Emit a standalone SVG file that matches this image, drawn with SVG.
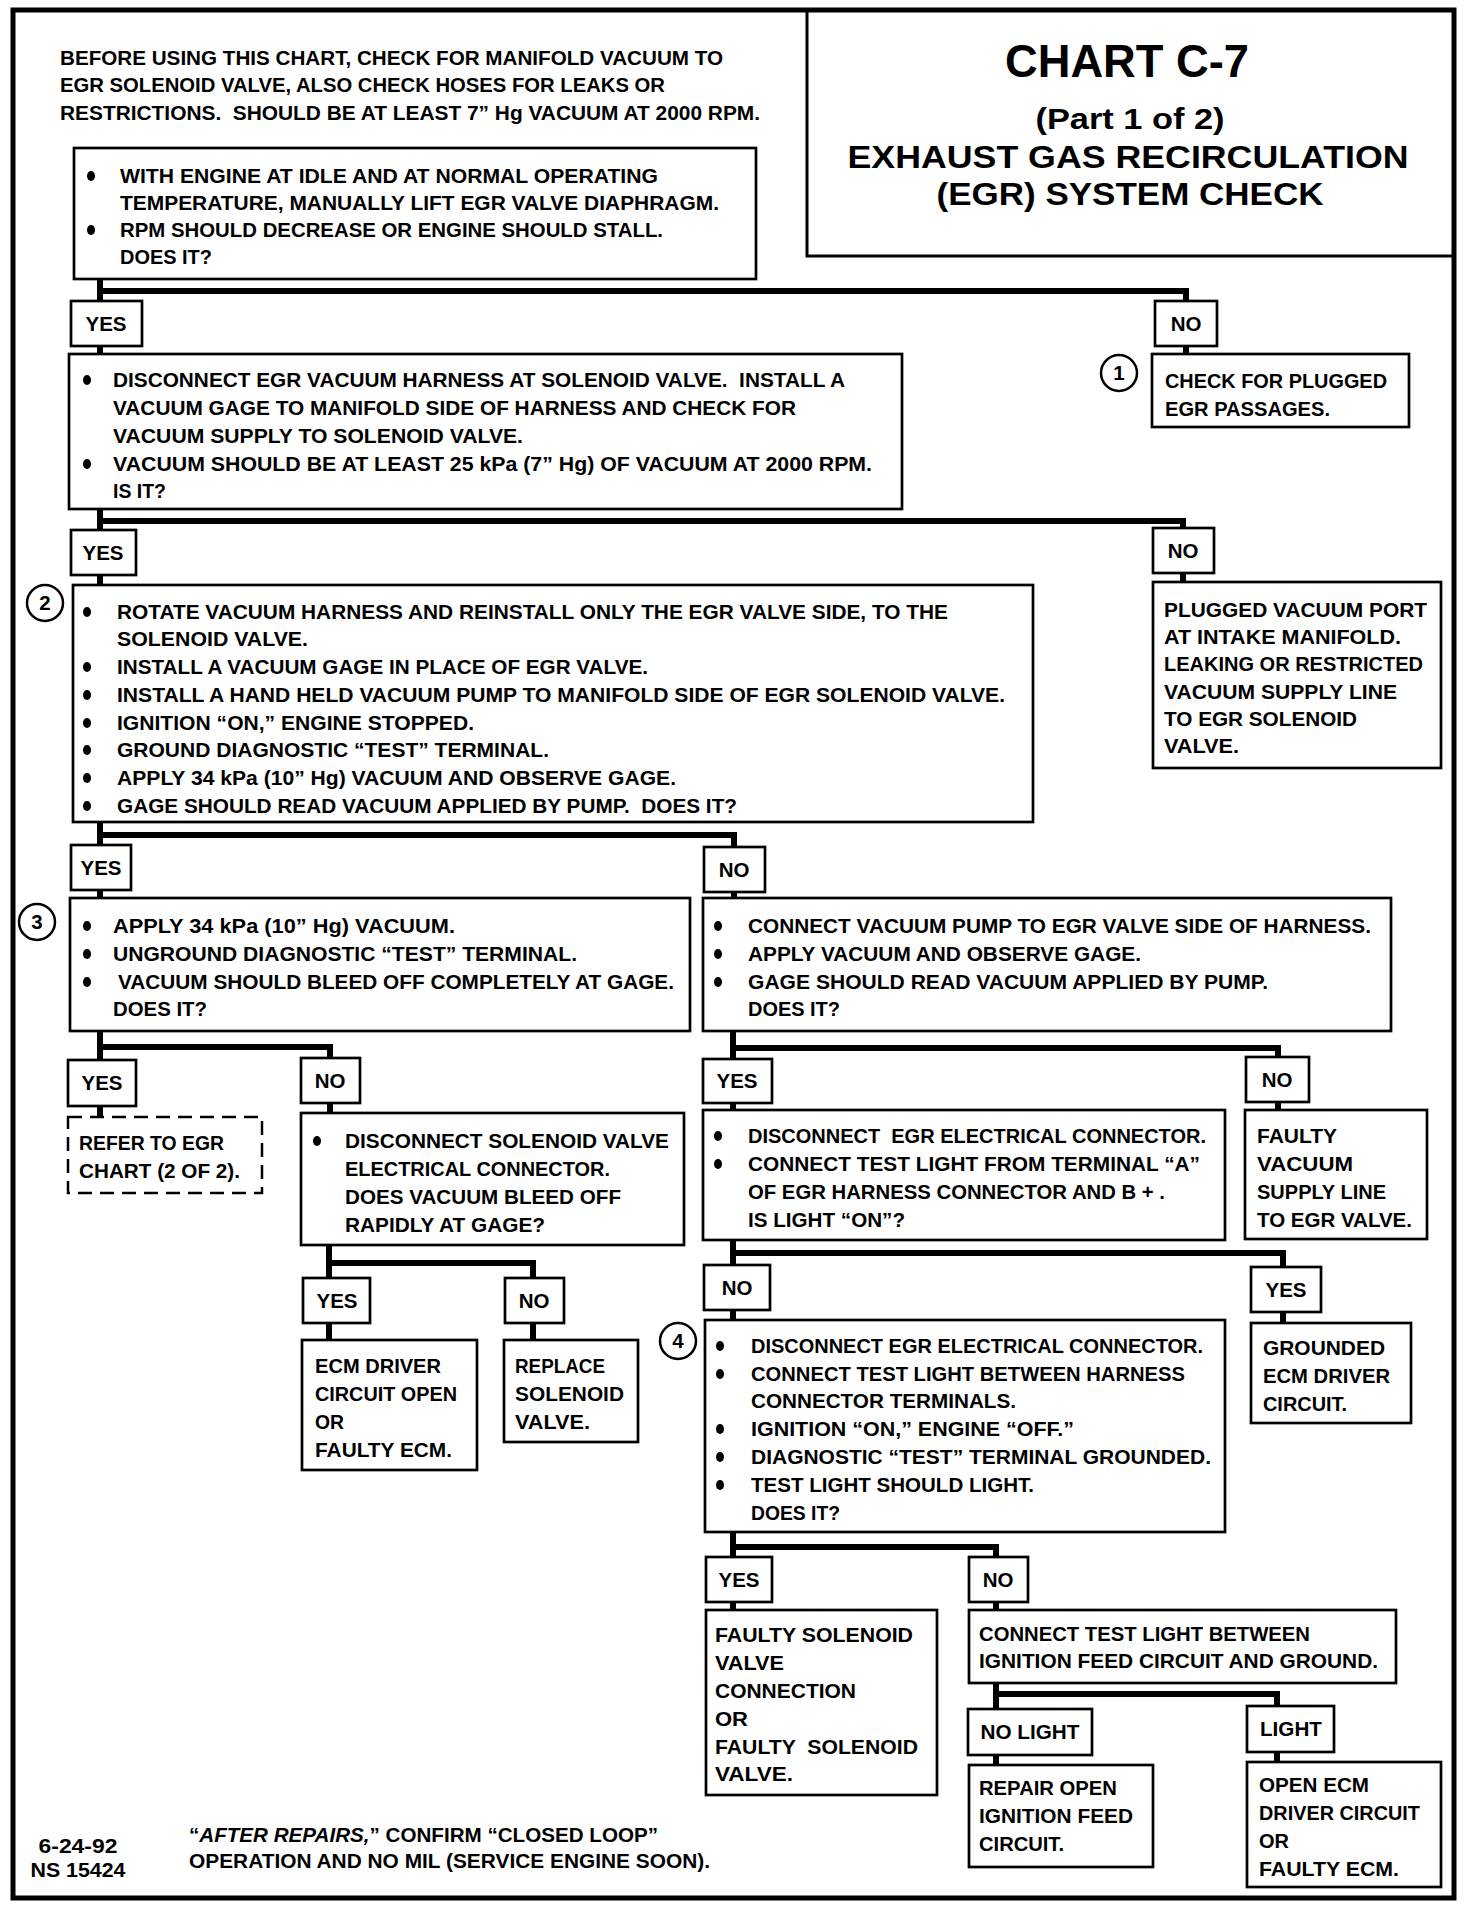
<svg xmlns="http://www.w3.org/2000/svg" width="1472" height="1908" viewBox="0 0 1472 1908">
<style>
.bx{fill:#fff;stroke:#000;stroke-width:2.7}
.dash{fill:#fff;stroke:#000;stroke-width:2.5;stroke-dasharray:14 8}
.t{font-family:"Liberation Sans",Arial,sans-serif;font-weight:bold;font-size:20.5px;fill:#000}
.c{text-anchor:middle}
.cn{fill:none;stroke:#000;stroke-width:6;stroke-linecap:square}
.ci{fill:#fff;stroke:#000;stroke-width:2.5}
.bul{fill:#000}
.h1{font-size:46px}
.h2{font-size:29px}
.h3{font-size:31px}
</style>
<defs><ellipse id="b" rx="4" ry="5" class="bul"/></defs>
<rect x="0" y="0" width="1472" height="1908" fill="#fff"/>
<rect x="13" y="10" width="1441" height="1888" fill="none" stroke="#000" stroke-width="5"/>

<g id="connectors">
<path class="cn" d="M100,279V301M100,291H1186V301M100,346V354M1186,346V354"/>
<path class="cn" d="M100,509V530M100,521H1183V528M100,575V585M1183,573V582"/>
<path class="cn" d="M100,822V845M100,835H734V847M100,890V898M734,892V898"/>
<path class="cn" d="M100,1031V1060M100,1047H330V1058M100,1106V1117M330,1103V1113"/>
<path class="cn" d="M733,1031V1059M733,1048H1278V1057M733,1103V1110M1278,1102V1110"/>
<path class="cn" d="M329,1245V1278M329,1263H533V1278M329,1323V1340M533,1323V1340"/>
<path class="cn" d="M733,1240V1265M733,1253H1283V1267M733,1310V1320M1283,1312V1323"/>
<path class="cn" d="M733,1532V1557M733,1547H996V1557M733,1602V1610M996,1602V1610"/>
<path class="cn" d="M996,1683V1709M996,1694H1277V1706M996,1755V1765M1277,1752V1762"/>
</g>

<g id="title">
<rect x="807" y="10" width="647" height="246" fill="none" stroke="#000" stroke-width="3"/>
<text class="t c h1" x="1127" y="77" textLength="244" lengthAdjust="spacingAndGlyphs">CHART C-7</text>
<text class="t c h2" x="1130" y="129" textLength="189" lengthAdjust="spacingAndGlyphs">(Part 1 of 2)</text>
<text class="t c h3" x="1128" y="168" textLength="561" lengthAdjust="spacingAndGlyphs">EXHAUST GAS RECIRCULATION</text>
<text class="t c h3" x="1130" y="205" textLength="387" lengthAdjust="spacingAndGlyphs">(EGR) SYSTEM CHECK</text>
</g>

<g id="intro">
<text class="t" x="60" y="65" textLength="663" lengthAdjust="spacingAndGlyphs">BEFORE USING THIS CHART, CHECK FOR MANIFOLD VACUUM TO</text>
<text class="t" x="60" y="92" textLength="605" lengthAdjust="spacingAndGlyphs">EGR SOLENOID VALVE, ALSO CHECK HOSES FOR LEAKS OR</text>
<text class="t" x="60" y="120" textLength="700" lengthAdjust="spacingAndGlyphs" xml:space="preserve">RESTRICTIONS.  SHOULD BE AT LEAST 7” Hg VACUUM AT 2000 RPM.</text>
</g>

<g id="q1">
<rect class="bx" x="74" y="148" width="682" height="131"/>
<use href="#b" x="91" y="176"/><use href="#b" x="91" y="230"/>
<text class="t" x="120" y="183" textLength="538" lengthAdjust="spacingAndGlyphs">WITH ENGINE AT IDLE AND AT NORMAL OPERATING</text>
<text class="t" x="120" y="210" textLength="599" lengthAdjust="spacingAndGlyphs">TEMPERATURE, MANUALLY LIFT EGR VALVE DIAPHRAGM.</text>
<text class="t" x="120" y="237" textLength="543" lengthAdjust="spacingAndGlyphs">RPM SHOULD DECREASE OR ENGINE SHOULD STALL.</text>
<text class="t" x="120" y="264" textLength="92" lengthAdjust="spacingAndGlyphs">DOES IT?</text>
</g>

<g id="yes1"><rect class="bx" x="71" y="301" width="71" height="45"/><text class="t c" x="106" y="331">YES</text></g>
<g id="no1"><rect class="bx" x="1155" y="301" width="62" height="45"/><text class="t c" x="1186" y="331">NO</text></g>

<g id="q2">
<rect class="bx" x="69" y="354" width="833" height="155"/>
<use href="#b" x="87" y="380"/><use href="#b" x="87" y="464"/>
<text class="t" x="113" y="387" textLength="732" lengthAdjust="spacingAndGlyphs" xml:space="preserve">DISCONNECT EGR VACUUM HARNESS AT SOLENOID VALVE.  INSTALL A</text>
<text class="t" x="113" y="415" textLength="683" lengthAdjust="spacingAndGlyphs">VACUUM GAGE TO MANIFOLD SIDE OF HARNESS AND CHECK FOR</text>
<text class="t" x="113" y="443" textLength="410" lengthAdjust="spacingAndGlyphs">VACUUM SUPPLY TO SOLENOID VALVE.</text>
<text class="t" x="113" y="471" textLength="759" lengthAdjust="spacingAndGlyphs">VACUUM SHOULD BE AT LEAST 25 kPa (7” Hg) OF VACUUM AT 2000 RPM.</text>
<text class="t" x="113" y="498" textLength="53" lengthAdjust="spacingAndGlyphs">IS IT?</text>
</g>

<g id="r1">
<circle class="ci" cx="1119" cy="373" r="18"/><text class="t c" x="1119" y="380">1</text>
<rect class="bx" x="1152" y="354" width="257" height="73"/>
<text class="t" x="1165" y="388" textLength="222" lengthAdjust="spacingAndGlyphs">CHECK FOR PLUGGED</text>
<text class="t" x="1165" y="416" textLength="165" lengthAdjust="spacingAndGlyphs">EGR PASSAGES.</text>
</g>

<g id="yes2"><rect class="bx" x="71" y="530" width="65" height="45"/><text class="t c" x="103" y="560">YES</text></g>
<g id="no2"><rect class="bx" x="1153" y="528" width="61" height="45"/><text class="t c" x="1183" y="558">NO</text></g>

<g id="q3">
<circle class="ci" cx="45" cy="603" r="18"/><text class="t c" x="45" y="610">2</text>
<rect class="bx" x="73" y="585" width="960" height="237"/>
<use href="#b" x="87" y="612"/><use href="#b" x="87" y="667"/><use href="#b" x="87" y="695"/><use href="#b" x="87" y="723"/><use href="#b" x="87" y="750"/><use href="#b" x="87" y="778"/><use href="#b" x="87" y="806"/>
<text class="t" x="117" y="619" textLength="831" lengthAdjust="spacingAndGlyphs">ROTATE VACUUM HARNESS AND REINSTALL ONLY THE EGR VALVE SIDE, TO THE</text>
<text class="t" x="117" y="646" textLength="191" lengthAdjust="spacingAndGlyphs">SOLENOID VALVE.</text>
<text class="t" x="117" y="674" textLength="531" lengthAdjust="spacingAndGlyphs">INSTALL A VACUUM GAGE IN PLACE OF EGR VALVE.</text>
<text class="t" x="117" y="702" textLength="888" lengthAdjust="spacingAndGlyphs">INSTALL A HAND HELD VACUUM PUMP TO MANIFOLD SIDE OF EGR SOLENOID VALVE.</text>
<text class="t" x="117" y="730" textLength="357" lengthAdjust="spacingAndGlyphs">IGNITION “ON,” ENGINE STOPPED.</text>
<text class="t" x="117" y="757" textLength="432" lengthAdjust="spacingAndGlyphs">GROUND DIAGNOSTIC “TEST” TERMINAL.</text>
<text class="t" x="117" y="785" textLength="559" lengthAdjust="spacingAndGlyphs">APPLY 34 kPa (10” Hg) VACUUM AND OBSERVE GAGE.</text>
<text class="t" x="117" y="813" textLength="620" lengthAdjust="spacingAndGlyphs" xml:space="preserve">GAGE SHOULD READ VACUUM APPLIED BY PUMP.  DOES IT?</text>
</g>

<g id="r2">
<rect class="bx" x="1153" y="582" width="288" height="186"/>
<text class="t" x="1164" y="617" textLength="263" lengthAdjust="spacingAndGlyphs">PLUGGED VACUUM PORT</text>
<text class="t" x="1164" y="644" textLength="237" lengthAdjust="spacingAndGlyphs">AT INTAKE MANIFOLD.</text>
<text class="t" x="1164" y="671" textLength="259" lengthAdjust="spacingAndGlyphs">LEAKING OR RESTRICTED</text>
<text class="t" x="1164" y="699" textLength="233" lengthAdjust="spacingAndGlyphs">VACUUM SUPPLY LINE</text>
<text class="t" x="1164" y="726" textLength="193" lengthAdjust="spacingAndGlyphs">TO EGR SOLENOID</text>
<text class="t" x="1164" y="753" textLength="75" lengthAdjust="spacingAndGlyphs">VALVE.</text>
</g>

<g id="yes3"><rect class="bx" x="71" y="845" width="60" height="45"/><text class="t c" x="101" y="875">YES</text></g>
<g id="no3"><rect class="bx" x="704" y="847" width="61" height="45"/><text class="t c" x="734" y="877">NO</text></g>

<g id="q4">
<circle class="ci" cx="37" cy="922" r="18"/><text class="t c" x="37" y="929">3</text>
<rect class="bx" x="70" y="898" width="620" height="133"/>
<use href="#b" x="87" y="926"/><use href="#b" x="87" y="954"/><use href="#b" x="87" y="982"/>
<text class="t" x="113" y="933" textLength="342" lengthAdjust="spacingAndGlyphs">APPLY 34 kPa (10” Hg) VACUUM.</text>
<text class="t" x="113" y="961" textLength="464" lengthAdjust="spacingAndGlyphs">UNGROUND DIAGNOSTIC “TEST” TERMINAL.</text>
<text class="t" x="118" y="989" textLength="556" lengthAdjust="spacingAndGlyphs">VACUUM SHOULD BLEED OFF COMPLETELY AT GAGE.</text>
<text class="t" x="113" y="1016" textLength="94" lengthAdjust="spacingAndGlyphs">DOES IT?</text>
</g>

<g id="q5">
<rect class="bx" x="703" y="898" width="688" height="133"/>
<use href="#b" x="718" y="926"/><use href="#b" x="718" y="954"/><use href="#b" x="718" y="982"/>
<text class="t" x="748" y="933" textLength="623" lengthAdjust="spacingAndGlyphs">CONNECT VACUUM PUMP TO EGR VALVE SIDE OF HARNESS.</text>
<text class="t" x="748" y="961" textLength="393" lengthAdjust="spacingAndGlyphs">APPLY VACUUM AND OBSERVE GAGE.</text>
<text class="t" x="748" y="989" textLength="520" lengthAdjust="spacingAndGlyphs">GAGE SHOULD READ VACUUM APPLIED BY PUMP.</text>
<text class="t" x="748" y="1016" textLength="92" lengthAdjust="spacingAndGlyphs">DOES IT?</text>
</g>

<g id="yes4"><rect class="bx" x="68" y="1060" width="68" height="46"/><text class="t c" x="102" y="1090">YES</text></g>
<g id="no4"><rect class="bx" x="301" y="1058" width="59" height="45"/><text class="t c" x="330" y="1088">NO</text></g>
<g id="yes5"><rect class="bx" x="703" y="1059" width="69" height="44"/><text class="t c" x="737" y="1088">YES</text></g>
<g id="no5"><rect class="bx" x="1246" y="1057" width="63" height="45"/><text class="t c" x="1277" y="1087">NO</text></g>

<g id="r3">
<rect class="dash" x="68" y="1117" width="194" height="76"/>
<text class="t" x="79" y="1150" textLength="145" lengthAdjust="spacingAndGlyphs">REFER TO EGR</text>
<text class="t" x="79" y="1178" textLength="161" lengthAdjust="spacingAndGlyphs">CHART (2 OF 2).</text>
</g>

<g id="q6">
<rect class="bx" x="301" y="1113" width="383" height="132"/>
<use href="#b" x="317" y="1141"/>
<text class="t" x="345" y="1148" textLength="324" lengthAdjust="spacingAndGlyphs">DISCONNECT SOLENOID VALVE</text>
<text class="t" x="345" y="1176" textLength="265" lengthAdjust="spacingAndGlyphs">ELECTRICAL CONNECTOR.</text>
<text class="t" x="345" y="1204" textLength="276" lengthAdjust="spacingAndGlyphs">DOES VACUUM BLEED OFF</text>
<text class="t" x="345" y="1232" textLength="200" lengthAdjust="spacingAndGlyphs">RAPIDLY AT GAGE?</text>
</g>

<g id="q7">
<rect class="bx" x="703" y="1110" width="522" height="130"/>
<use href="#b" x="718" y="1136"/><use href="#b" x="718" y="1164"/>
<text class="t" x="748" y="1143" textLength="458" lengthAdjust="spacingAndGlyphs" xml:space="preserve">DISCONNECT  EGR ELECTRICAL CONNECTOR.</text>
<text class="t" x="748" y="1171" textLength="452" lengthAdjust="spacingAndGlyphs">CONNECT TEST LIGHT FROM TERMINAL “A”</text>
<text class="t" x="748" y="1199" textLength="417" lengthAdjust="spacingAndGlyphs">OF EGR HARNESS CONNECTOR AND B + .</text>
<text class="t" x="748" y="1227" textLength="157" lengthAdjust="spacingAndGlyphs">IS LIGHT “ON”?</text>
</g>

<g id="r4">
<rect class="bx" x="1245" y="1110" width="182" height="129"/>
<text class="t" x="1257" y="1143" textLength="80" lengthAdjust="spacingAndGlyphs">FAULTY</text>
<text class="t" x="1257" y="1171" textLength="96" lengthAdjust="spacingAndGlyphs">VACUUM</text>
<text class="t" x="1257" y="1199" textLength="129" lengthAdjust="spacingAndGlyphs">SUPPLY LINE</text>
<text class="t" x="1257" y="1227" textLength="155" lengthAdjust="spacingAndGlyphs">TO EGR VALVE.</text>
</g>

<g id="yes6"><rect class="bx" x="303" y="1278" width="67" height="45"/><text class="t c" x="337" y="1308">YES</text></g>
<g id="no6"><rect class="bx" x="505" y="1278" width="59" height="45"/><text class="t c" x="534" y="1308">NO</text></g>
<g id="no7"><rect class="bx" x="704" y="1265" width="66" height="45"/><text class="t c" x="737" y="1295">NO</text></g>
<g id="yes7"><rect class="bx" x="1251" y="1267" width="70" height="45"/><text class="t c" x="1286" y="1297">YES</text></g>

<g id="r5">
<rect class="bx" x="302" y="1340" width="175" height="130"/>
<text class="t" x="315" y="1373" textLength="126" lengthAdjust="spacingAndGlyphs">ECM DRIVER</text>
<text class="t" x="315" y="1401" textLength="142" lengthAdjust="spacingAndGlyphs">CIRCUIT OPEN</text>
<text class="t" x="315" y="1429" textLength="29" lengthAdjust="spacingAndGlyphs">OR</text>
<text class="t" x="315" y="1457" textLength="137" lengthAdjust="spacingAndGlyphs">FAULTY ECM.</text>
</g>

<g id="r6">
<rect class="bx" x="504" y="1340" width="134" height="102"/>
<text class="t" x="515" y="1373" textLength="90" lengthAdjust="spacingAndGlyphs">REPLACE</text>
<text class="t" x="515" y="1401" textLength="109" lengthAdjust="spacingAndGlyphs">SOLENOID</text>
<text class="t" x="515" y="1429" textLength="75" lengthAdjust="spacingAndGlyphs">VALVE.</text>
</g>

<g id="q8">
<circle class="ci" cx="678" cy="1341" r="18"/><text class="t c" x="678" y="1348">4</text>
<rect class="bx" x="705" y="1320" width="520" height="212"/>
<use href="#b" x="720" y="1346"/><use href="#b" x="720" y="1374"/><use href="#b" x="720" y="1429"/><use href="#b" x="720" y="1457"/><use href="#b" x="720" y="1485"/>
<text class="t" x="751" y="1353" textLength="452" lengthAdjust="spacingAndGlyphs">DISCONNECT EGR ELECTRICAL CONNECTOR.</text>
<text class="t" x="751" y="1381" textLength="434" lengthAdjust="spacingAndGlyphs">CONNECT TEST LIGHT BETWEEN HARNESS</text>
<text class="t" x="751" y="1408" textLength="265" lengthAdjust="spacingAndGlyphs">CONNECTOR TERMINALS.</text>
<text class="t" x="751" y="1436" textLength="323" lengthAdjust="spacingAndGlyphs">IGNITION “ON,” ENGINE “OFF.”</text>
<text class="t" x="751" y="1464" textLength="460" lengthAdjust="spacingAndGlyphs">DIAGNOSTIC “TEST” TERMINAL GROUNDED.</text>
<text class="t" x="751" y="1492" textLength="283" lengthAdjust="spacingAndGlyphs">TEST LIGHT SHOULD LIGHT.</text>
<text class="t" x="751" y="1520" textLength="89" lengthAdjust="spacingAndGlyphs">DOES IT?</text>
</g>

<g id="r7">
<rect class="bx" x="1251" y="1323" width="160" height="100"/>
<text class="t" x="1263" y="1355" textLength="122" lengthAdjust="spacingAndGlyphs">GROUNDED</text>
<text class="t" x="1263" y="1383" textLength="127" lengthAdjust="spacingAndGlyphs">ECM DRIVER</text>
<text class="t" x="1263" y="1411" textLength="84" lengthAdjust="spacingAndGlyphs">CIRCUIT.</text>
</g>

<g id="yes8"><rect class="bx" x="706" y="1557" width="66" height="45"/><text class="t c" x="739" y="1587">YES</text></g>
<g id="no8"><rect class="bx" x="969" y="1557" width="59" height="45"/><text class="t c" x="998" y="1587">NO</text></g>

<g id="r8">
<rect class="bx" x="706" y="1610" width="231" height="185"/>
<text class="t" x="715" y="1642" textLength="198" lengthAdjust="spacingAndGlyphs">FAULTY SOLENOID</text>
<text class="t" x="715" y="1670" textLength="69" lengthAdjust="spacingAndGlyphs">VALVE</text>
<text class="t" x="715" y="1698" textLength="141" lengthAdjust="spacingAndGlyphs">CONNECTION</text>
<text class="t" x="715" y="1726" textLength="33" lengthAdjust="spacingAndGlyphs">OR</text>
<text class="t" x="715" y="1754" textLength="203" lengthAdjust="spacingAndGlyphs" xml:space="preserve">FAULTY  SOLENOID</text>
<text class="t" x="715" y="1781" textLength="78" lengthAdjust="spacingAndGlyphs">VALVE.</text>
</g>

<g id="q9">
<rect class="bx" x="969" y="1610" width="427" height="73"/>
<text class="t" x="979" y="1641" textLength="331" lengthAdjust="spacingAndGlyphs">CONNECT TEST LIGHT BETWEEN</text>
<text class="t" x="979" y="1668" textLength="399" lengthAdjust="spacingAndGlyphs">IGNITION FEED CIRCUIT AND GROUND.</text>
</g>

<g id="nolight"><rect class="bx" x="968" y="1709" width="124" height="46"/><text class="t c" x="1030" y="1739" textLength="99" lengthAdjust="spacingAndGlyphs">NO LIGHT</text></g>
<g id="light"><rect class="bx" x="1247" y="1706" width="87" height="46"/><text class="t c" x="1291" y="1736" textLength="62" lengthAdjust="spacingAndGlyphs">LIGHT</text></g>

<g id="r9">
<rect class="bx" x="969" y="1765" width="184" height="102"/>
<text class="t" x="979" y="1795" textLength="138" lengthAdjust="spacingAndGlyphs">REPAIR OPEN</text>
<text class="t" x="979" y="1823" textLength="154" lengthAdjust="spacingAndGlyphs">IGNITION FEED</text>
<text class="t" x="979" y="1851" textLength="85" lengthAdjust="spacingAndGlyphs">CIRCUIT.</text>
</g>

<g id="r10">
<rect class="bx" x="1247" y="1762" width="194" height="125"/>
<text class="t" x="1259" y="1792" textLength="110" lengthAdjust="spacingAndGlyphs">OPEN ECM</text>
<text class="t" x="1259" y="1820" textLength="161" lengthAdjust="spacingAndGlyphs">DRIVER CIRCUIT</text>
<text class="t" x="1259" y="1848" textLength="30" lengthAdjust="spacingAndGlyphs">OR</text>
<text class="t" x="1259" y="1876" textLength="140" lengthAdjust="spacingAndGlyphs">FAULTY ECM.</text>
</g>

<g id="footer">
<text class="t c" x="78" y="1853" textLength="79" lengthAdjust="spacingAndGlyphs">6-24-92</text>
<text class="t c" x="78" y="1877" textLength="95" lengthAdjust="spacingAndGlyphs">NS 15424</text>
<text class="t" x="189" y="1842" textLength="469" lengthAdjust="spacingAndGlyphs">“<tspan font-style="italic">AFTER REPAIRS,</tspan>” CONFIRM “CLOSED LOOP”</text>
<text class="t" x="189" y="1868" textLength="521" lengthAdjust="spacingAndGlyphs">OPERATION AND NO MIL (SERVICE ENGINE SOON).</text>
</g>
</svg>
